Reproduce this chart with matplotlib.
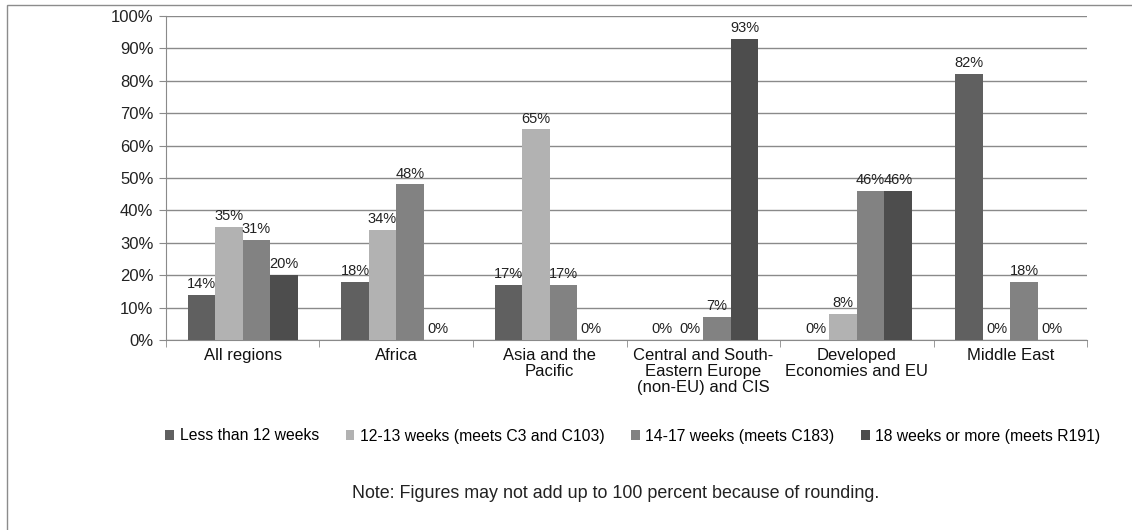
import matplotlib
matplotlib.use('Agg')
from matplotlib import pyplot as plt
from matplotlib.patches import Rectangle
from matplotlib.ticker import MultipleLocator, FuncFormatter
import numpy as np

plt.rcParams['font.family'] = ['Liberation Sans', 'DejaVu Sans']

categories = ['All regions', 'Africa', 'Asia and the\nPacific',
              'Central and South-\nEastern Europe\n(non-EU) and CIS',
              'Developed\nEconomies and EU', 'Middle East']
series_names = ['Less than 12 weeks', '12-13 weeks (meets C3 and C103)',
                '14-17 weeks (meets C183)', '18 weeks or more (meets R191)']
less_12 = [14, 18, 17, 0, 0, 82]
w12_13 = [35, 34, 65, 0, 8, 0]
w14_17 = [31, 48, 17, 7, 46, 18]
w18_more = [20, 0, 0, 93, 46, 0]
colors = ['#606060', '#b2b2b2', '#828282', '#4d4d4d']

fig = plt.figure(figsize=(11.32, 5.3), dpi=100)
ax = fig.add_axes([0.1466, 0.3585, 0.8137, 0.6113])

# outer frame
fig.patches.append(Rectangle((7 / 1132, -0.01), 1.1, 1 - 5 / 530 + 0.01,
                             transform=fig.transFigure, fill=False,
                             edgecolor='#8c8c8c', linewidth=1.0))

x = np.arange(len(categories))
bw = 0.179
all_series = [less_12, w12_13, w14_17, w18_more]
for i, (vals, name, col) in enumerate(zip(all_series, series_names, colors)):
    pos = x + (i - 1.5) * bw
    ax.bar(pos, vals, width=bw, color=col, label=name, zorder=3)
    for px, v in zip(pos, vals):
        ax.text(px, v + 1.2, '%d%%' % v, ha='center', va='bottom',
                fontsize=10.5, color='#222222', zorder=4)

ax.set_xlim(-0.5, len(categories) - 0.5)
ax.set_ylim(0, 100)
ax.yaxis.set_major_locator(MultipleLocator(10))
ax.yaxis.set_major_formatter(FuncFormatter(lambda v, p: '%d%%' % v))
ax.grid(axis='y', color='#8a8a8a', linewidth=1.0, zorder=0)

ax.set_xticks(x)
ax.set_xticklabels(categories, fontsize=12, color='#111111',
                   linespacing=1.05)
ax.tick_params(axis='x', length=0, pad=6)
ax.set_xticks(np.arange(len(categories) + 1) - 0.5, minor=True)
ax.tick_params(axis='x', which='minor', length=5, color='#8a8a8a')
ax.tick_params(axis='y', length=5, color='#8a8a8a', labelsize=12,
               labelcolor='#222222', pad=4)

for s in ['top', 'right']:
    ax.spines[s].set_visible(False)
ax.spines['left'].set_color('#8a8a8a')
ax.spines['bottom'].set_color('#8a8a8a')

leg = fig.legend(loc='center', bbox_to_anchor=(0.559, 1 - 436 / 530), ncol=4,
                 frameon=False, fontsize=11.3, handlelength=0.55,
                 handleheight=0.55, handletextpad=0.35, columnspacing=1.7)

fig.text(0.544, 1 - 494 / 530,
         'Note: Figures may not add up to 100 percent because of rounding.',
         ha='center', va='center', fontsize=12.9, color='#222222')

fig.savefig('out.png', dpi=100)
